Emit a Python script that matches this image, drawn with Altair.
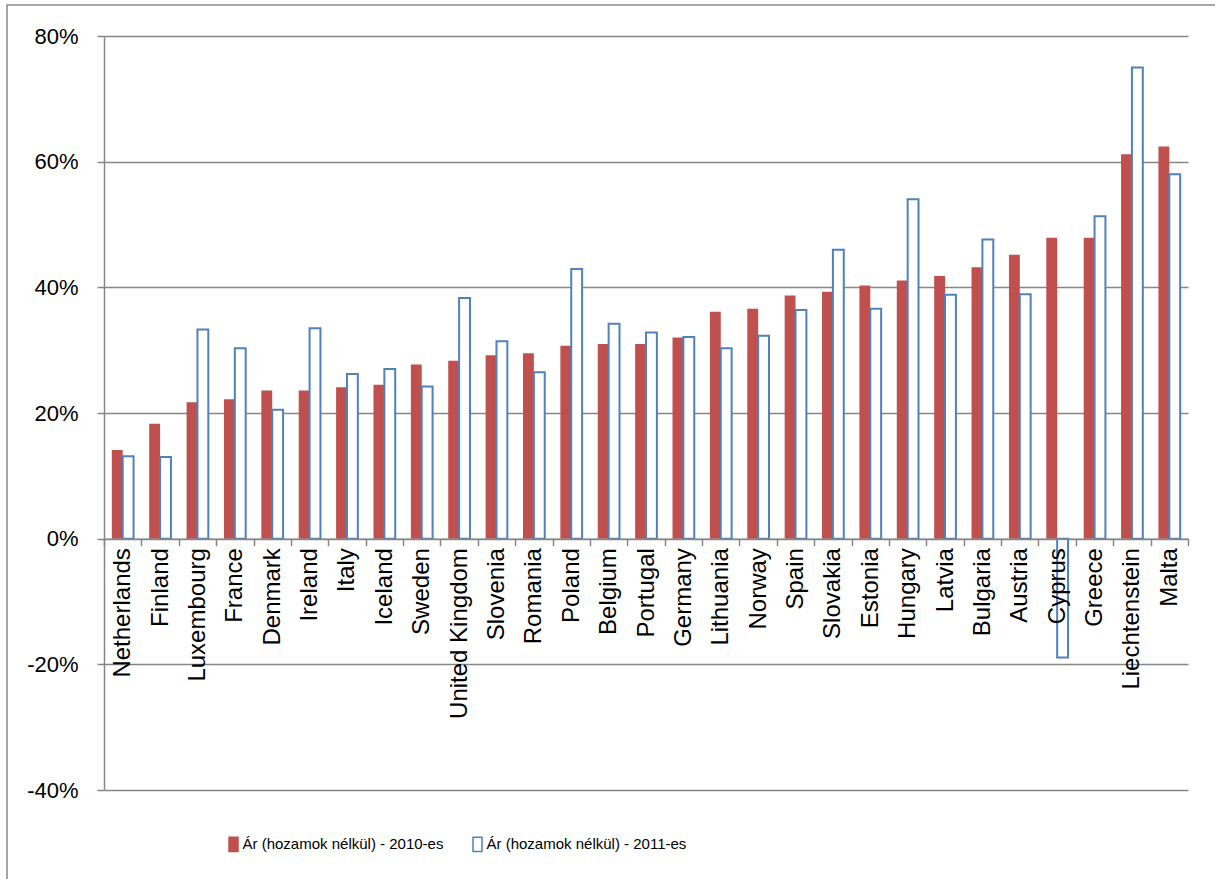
import altair as alt
import pandas as pd

countries = ["Netherlands", "Finland", "Luxembourg", "France", "Denmark", "Ireland", "Italy",
             "Iceland", "Sweden", "United Kingdom", "Slovenia", "Romania", "Poland", "Belgium",
             "Portugal", "Germany", "Lithuania", "Norway", "Spain", "Slovakia", "Estonia",
             "Hungary", "Latvia", "Bulgaria", "Austria", "Cyprus", "Greece", "Liechtenstein", "Malta"]
v2010 = [14.1, 18.3, 21.7, 22.2, 23.6, 23.6, 24.1, 24.5, 27.7, 28.3, 29.2, 29.5, 30.7, 31.0,
         31.0, 32.0, 36.1, 36.6, 38.7, 39.3, 40.3, 41.1, 41.8, 43.2, 45.2, 47.9, 47.9, 61.2, 62.4]
v2011 = [13.1, 13.0, 33.3, 30.3, 20.5, 33.5, 26.2, 27.0, 24.2, 38.3, 31.4, 26.5, 42.9, 34.2,
         32.8, 32.1, 30.3, 32.3, 36.4, 46.0, 36.6, 54.0, 38.8, 47.6, 38.9, -18.9, 51.3, 75.0, 58.0]
series = ["Ár (hozamok nélkül) - 2010-es", "Ár (hozamok nélkül) - 2011-es"]
y_ticks = [-40, -20, 0, 20, 40, 60, 80]

rows = []
for c, a, b in zip(countries, v2010, v2011):
    rows.append({"country": c, "series": series[0], "value": a})
    rows.append({"country": c, "series": series[1], "value": b})
df = pd.DataFrame(rows)

W, H = 1084, 754
Y_MIN, Y_MAX = -40, 80
GRID = "#868686"
# distance from the bottom of the plot up to the 0% line
zero_offset = -H * (0 - Y_MIN) / (Y_MAX - Y_MIN)

bars = alt.Chart(df).mark_bar().encode(
    x=alt.X("country:N", sort=countries, title=None,
            scale=alt.Scale(paddingInner=0, paddingOuter=0),
            axis=alt.Axis(labelAngle=270, labelFont="Liberation Sans", labelFontSize=24,
                          labelColor="#000", labelPadding=2, labelLimit=0, labelOverlap=False,
                          tickBand="extent", tickSize=7, tickColor=GRID, tickWidth=1.5,
                          domainColor=GRID, domainWidth=1.5, grid=False, zindex=1,
                          offset=zero_offset)),
    xOffset=alt.XOffset("series:N", sort=series,
                        scale=alt.Scale(paddingInner=0, paddingOuter=0.72)),
    y=alt.Y("value:Q", title=None,
            scale=alt.Scale(domain=[Y_MIN, Y_MAX], nice=False, zero=False),
            axis=alt.Axis(values=y_ticks, labelExpr="datum.value + '%'",
                          labelFont="Liberation Sans", labelFontSize=22, labelColor="#000",
                          labelPadding=19, tickSize=7, tickColor=GRID, tickWidth=1.5,
                          domainColor=GRID, domainWidth=1.5,
                          gridColor=GRID, gridWidth=1.5)),
    fill=alt.Fill("series:N", sort=series, title=None,
                  scale=alt.Scale(domain=series, range=["#C0504D", "#FFFFFF"])),
    stroke=alt.Stroke("series:N", sort=series, title=None,
                      scale=alt.Scale(domain=series, range=["#C0504D", "#4F81BD"])),
    strokeWidth=alt.condition(alt.datum.series == series[0], alt.value(0), alt.value(2)),
)

frame = alt.Chart(pd.DataFrame({"f": [0]})).mark_rect(
    filled=False, stroke="#8A8A8A", strokeWidth=1.5
).encode(
    x=alt.value(-97), y=alt.value(-31), x2=alt.value(W + 200), y2=alt.value(H + 200)
)

chart = alt.layer(frame, bars).properties(
    width=W, height=H,
    autosize=alt.AutoSizeParams(type="none"),
    padding={"left": 104, "top": 36, "right": 27, "bottom": 89},
    background="white",
).configure_view(stroke=None).configure_legend(
    orient="none", legendX=121.5, legendY=800, direction="horizontal",
    labelFont="Liberation Sans", labelFontSize=15, labelColor="#000",
    symbolType="M-0.62,-1H0.62V1H-0.62Z", symbolSize=210, symbolStrokeWidth=1.5,
    columnPadding=26, labelOffset=1, padding=0, labelLimit=0,
)

chart.save("out.html", embed_options={"renderer": "svg", "actions": False})
